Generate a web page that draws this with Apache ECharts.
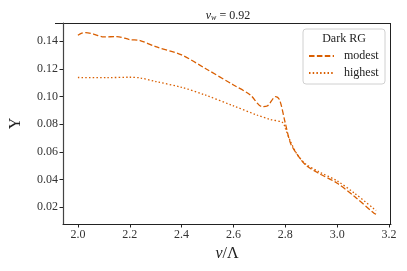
<!DOCTYPE html>
<html><head><meta charset="utf-8">
<script src="https://cdn.jsdelivr.net/npm/echarts@6/dist/echarts.min.js"></script>
<style>html,body{margin:0;padding:0;background:#fff}#c{width:407px;height:271px}</style>
</head><body><div id="c"></div>
<script>
const xTicks = [2.0, 2.2, 2.4, 2.6, 2.8, 3.0, 3.2];
const yTicks = [0.02, 0.04, 0.06, 0.08, 0.10, 0.12, 0.14];
const modestX = [2.0, 2.015, 2.03, 2.06, 2.10, 2.15, 2.20, 2.24, 2.30, 2.40, 2.49, 2.60, 2.665, 2.71, 2.73, 2.763, 2.778, 2.80, 2.82, 2.847, 2.878, 2.928, 3.0, 3.067, 3.142, 3.15];
const modestY = [0.1443, 0.1458, 0.1462, 0.1452, 0.1431, 0.1434, 0.1412, 0.1405, 0.1361, 0.1301, 0.1205, 0.1084, 0.1012, 0.0928, 0.0932, 0.1000, 0.0976, 0.0807, 0.0663, 0.0578, 0.0506, 0.0446, 0.0374, 0.0277, 0.0157, 0.0150];
const highestX = [2.0, 2.11, 2.20, 2.24, 2.30, 2.40, 2.49, 2.60, 2.69, 2.74, 2.79, 2.80, 2.82, 2.847, 2.878, 2.928, 3.0, 3.067, 3.15];
const highestY = [0.1138, 0.1137, 0.1140, 0.1135, 0.1109, 0.1067, 0.1012, 0.0933, 0.0867, 0.0836, 0.0812, 0.0770, 0.0675, 0.0578, 0.0513, 0.0458, 0.0390, 0.0301, 0.0176];
const color = '#d95f02';
const font = 'Liberation Serif';
const zip = (a, b) => a.map((v, i) => [v, b[i]]);
const chart = echarts.init(document.getElementById('c'));
chart.setOption({
  animation: false,
  title: {
    text: '{i|v}{s|w} = 0.92', left: 223, top: 4, textAlign: 'center',
    textStyle: { fontFamily: font, fontSize: 12, fontWeight: 'normal', color: '#222',
      rich: { i: { fontStyle: 'italic', fontFamily: font, fontSize: 12, color: '#222' },
              s: { fontStyle: 'italic', fontFamily: font, fontSize: 8, verticalAlign: 'bottom', padding: [5,0,0,0], color: '#222' } } }
  },
  grid: { left: 55, right: 16, top: 23, bottom: 47 },
  xAxis: {
    type: 'value', min: 1.9425, max: 3.2075,
    name: '{i|v}/Λ', nameLocation: 'middle', nameGap: 22,
    nameTextStyle: { fontFamily: font, fontSize: 16, color: '#222',
      rich: { i: { fontStyle: 'italic', fontFamily: font, fontSize: 16, color: '#222' } } },
    axisLine: { show: true, onZero: false, lineStyle: { color: '#222', width: 1 } },
    axisTick: { show: true, customValues: xTicks, length: 3.5, lineStyle: { color: '#222' } },
    axisLabel: { customValues: xTicks, fontFamily: font, fontSize: 12, color: '#333', margin: 5,
      formatter: v => v.toFixed(1) },
    splitLine: { show: false }
  },
  yAxis: {
    type: 'value', min: 0.0079, max: 0.1532,
    name: 'Υ', nameLocation: 'middle', nameGap: 39, nameRotate: 90,
    nameTextStyle: { fontFamily: font, fontSize: 16, color: '#222' },
    axisLine: { show: true, onZero: false, lineStyle: { color: '#444', width: 1.2 } },
    axisTick: { show: true, customValues: yTicks, length: 3.5, lineStyle: { color: '#222' } },
    axisLabel: { customValues: yTicks, fontFamily: font, fontSize: 12, color: '#333', margin: 5,
      formatter: v => v.toFixed(2) },
    splitLine: { show: false }
  },
  graphic: [
    { type: 'rect', shape: { x: 303, y: 29, width: 82, height: 55, r: 3 }, style: { fill: 'rgba(255,255,255,0.8)', stroke: '#d0d0d0', lineWidth: 1 }, z: 0 },
    { type: 'text', x: 344, y: 39, style: { text: 'Dark RG', fontFamily: font, fontSize: 12, fill: '#222', textAlign: 'center', textVerticalAlign: 'middle' }, z: 1 },
    { type: 'line', shape: { x1: 55, y1: 23.5, x2: 391, y2: 23.5 }, style: { stroke: '#222', lineWidth: 1 } },
    { type: 'line', shape: { x1: 390.5, y1: 23, x2: 390.5, y2: 224 }, style: { stroke: '#222', lineWidth: 1 } }
  ],
  legend: {
    left: 303, top: 29, orient: 'vertical', padding: [21, 5, 5, 5], itemGap: 5,
    itemWidth: 25, itemHeight: 12, z: 5,
    itemStyle: { opacity: 0 },
    textStyle: { fontFamily: font, fontSize: 12, color: '#222', padding: [0, 0, 0, 5] },
    data: ['modest', 'highest']
  },
  series: [
    { name: 'modest', type: 'line', data: zip(modestX, modestY), symbol: 'none', smooth: 0.3,
      lineStyle: { color: color, width: 1.3, type: [5.5, 2.4] }, itemStyle: { color: color } },
    { name: 'highest', type: 'line', data: zip(highestX, highestY), symbol: 'none', smooth: 0.3,
      lineStyle: { color: color, width: 1.3, type: [1.5, 2.2] }, itemStyle: { color: color } }
  ]
});
</script></body></html>
